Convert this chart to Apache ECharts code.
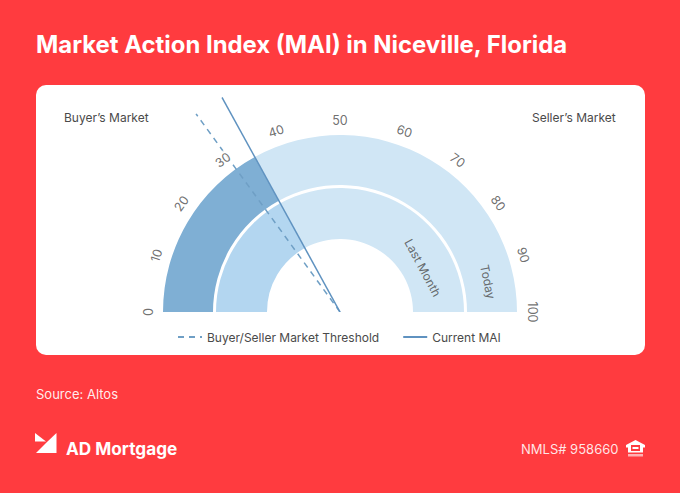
<!DOCTYPE html>
<html><head><meta charset="utf-8">
<style>html,body{margin:0;padding:0;background:#ff3b3f}#c{width:680px;height:493px}</style>
<script src="https://cdn.jsdelivr.net/npm/echarts@6/dist/echarts.min.js"></script>
</head><body><div id="c"></div>
<script>
const tickValues = [0,10,20,30,40,50,60,70,80,90,100];
const tickLabelAngles = [0,9.5,19.1,29.1,39.2,50,60.9,71,80.8,90.4,100];
const currentMAI = 34;
const lastMonthMAI = 34;
const thresholdMAI = 30;
const gaugeMax = 100;
const titleText = 'Market Action Index (MAI) in Niceville, Florida';
const FONT = 'Inter, "Open Sans", sans-serif';
const center = [340, 312];
const ink = '#4a4a4a';
const LEN = 245;

function ring(name, radius, val, dark) {
  return {
    type:'pie', name, center, radius, startAngle:180, silent:true, clockwise:true,
    label:{show:false}, labelLine:{show:false}, z:2, animation:false,
    data:[
      {value:val, itemStyle:{color:dark}},
      {value:gaugeMax-val, itemStyle:{color:'#d0e6f5'}},
      {value:gaugeMax, itemStyle:{color:'rgba(0,0,0,0)'}}
    ]
  };
}
function arcLabel(r, v, text, size, rotV) {
  return {value:[r, v], label:{show:true, position:'inside', formatter:text, rotate:90-(rotV===undefined?v:rotV)*1.8,
    color:ink, fontFamily:FONT, fontSize:size}};
}

const chart = echarts.init(document.getElementById('c'), null, {renderer:'svg'});
chart.setOption({
  animation:false,
  backgroundColor:'#ff3b3f',
  polar:{center, radius:[0, LEN]},
  angleAxis:{type:'value', min:0, max:gaugeMax, startAngle:180, endAngle:0, show:false},
  radiusAxis:{type:'value', min:0, max:LEN, show:false},
  legend:{
    left:172, top:326, itemWidth:24, itemHeight:10, itemGap:23,
    itemStyle:{opacity:0},
    data:['Buyer/Seller Market Threshold','Current MAI'],
    textStyle:{color:ink, fontFamily:FONT, fontSize:12}
  },
  graphic:[
    {type:'rect', z:0, shape:{x:36,y:85,width:609,height:270,r:10}, style:{fill:'#fff'}},
    {type:'text', z:5, style:{x:36,y:44,text:titleText,fill:'#fff',font:'700 23.9px '+FONT,textVerticalAlign:'middle'}},
    {type:'text', z:5, style:{x:64,y:117,text:'Buyer’s Market',fill:ink,font:'12px '+FONT,textVerticalAlign:'middle'}},
    {type:'text', z:5, style:{x:532,y:117,text:'Seller’s Market',fill:ink,font:'12px '+FONT,textVerticalAlign:'middle'}},
    {type:'text', z:5, style:{x:36,y:394,text:'Source: Altos',fill:'rgba(255,255,255,0.92)',font:'13px '+FONT,textVerticalAlign:'middle'}},
    {type:'text', z:5, style:{x:66,y:448,text:'AD Mortgage',fill:'#fff',font:'700 17.2px '+FONT,textVerticalAlign:'middle'}},
    {type:'text', z:5, style:{x:521,y:449,text:'NMLS# 958660',fill:'rgba(255,255,255,0.88)',font:'13px '+FONT,textVerticalAlign:'middle'}},
    {type:'polygon', z:5, shape:{points:[[35,433],[46,441.5],[35,441.5]]}, style:{fill:'#fff'}},
    {type:'polygon', z:5, shape:{points:[[56.5,433],[56.5,453],[36,453],[47,442]]}, style:{fill:'#fff'}},
    {type:'polygon', z:5, shape:{points:[[635.5,440],[626,445],[626,447.5],[628,447.5],[628,452.5],[643,452.5],[643,447.5],[645,447.5],[645,445]]}, style:{fill:'#fff'}},
    {type:'rect', z:6, shape:{x:631,y:445,width:9,height:6}, style:{fill:'#ff3b3f'}},
    {type:'rect', z:7, shape:{x:632.5,y:447,width:6,height:2}, style:{fill:'#fff'}},
    {type:'rect', z:5, shape:{x:628,y:454,width:15,height:2.5}, style:{fill:'rgba(255,255,255,0.6)'}}
  ],
  series:[
    ring('Today', [127,177], currentMAI, '#7fafd4'),
    ring('Last Month', [73,124], lastMonthMAI, '#b3d6f0'),
    {type:'line', name:'Buyer/Seller Market Threshold', coordinateSystem:'polar', symbol:'none', z:4, silent:true,
      data:[[0,thresholdMAI],[LEN,thresholdMAI]],
      lineStyle:{color:'#6f9fc5', width:1.5, type:[6,5]}, itemStyle:{color:'#6f9fc5'}},
    {type:'line', name:'Current MAI', coordinateSystem:'polar', symbol:'none', z:4, silent:true,
      data:[[0,currentMAI],[LEN,currentMAI]],
      lineStyle:{color:'#5f92c0', width:1.5}, itemStyle:{color:'#5f92c0'}},
    {type:'scatter', coordinateSystem:'polar', symbolSize:0, z:6, silent:true,
      data:tickValues.map((t,i)=>{
        const d = arcLabel(192,tickLabelAngles[i],String(t),12.5,t);
        d.label.backgroundColor='#fff'; d.label.padding=[1,2];
        return d;
      })},
    {type:'scatter', coordinateSystem:'polar', symbolSize:0, z:6, silent:true,
      data:[arcLabel(151,93.6,'Today',12), arcLabel(94,84.4,'Last Month',12)]}
  ]
});
</script></body></html>
